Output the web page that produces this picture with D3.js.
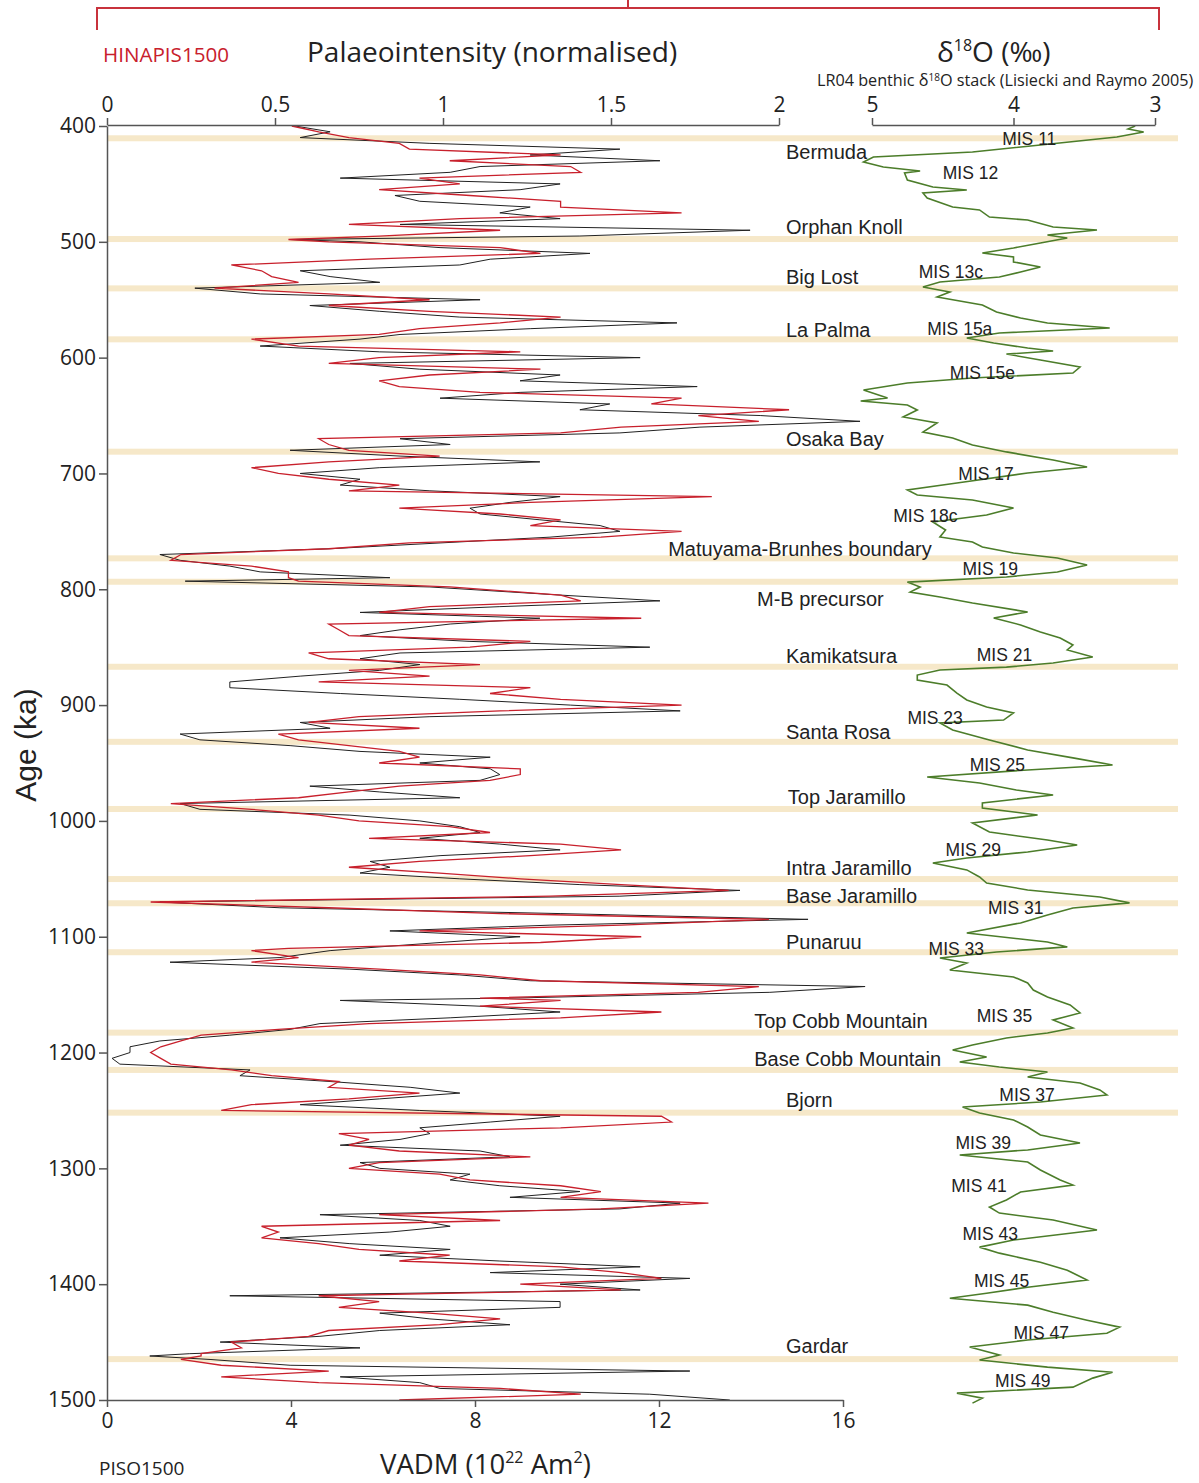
<!DOCTYPE html>
<html><head><meta charset="utf-8">
<script src="https://cdn.jsdelivr.net/npm/d3@7"></script>
<style>body{margin:0;background:#fff}svg{display:block}</style>
</head><body>
<svg id="chart" width="1199" height="1483"></svg>
<script>
// ---------------- DATA ----------------
// ages (ka) shared by the two palaeointensity records
const ages = [
400,405,410,415,420,425,430,435,440,445,
450,455,460,465,470,475,480,485,490,495,
498,500,505,510,515,520,525,530,535,540,
545,550,555,560,565,570,575,580,584,590,
595,600,605,610,615,620,625,630,635,640,
645,650,655,660,665,670,675,680,685,690,
695,700,705,710,715,720,725,730,735,740,
745,750,755,760,765,770,775,780,785,790,
793,798,805,810,815,820,825,830,835,840,
845,850,855,860,865,870,875,880,885,890,
895,900,905,910,915,920,925,930,935,940,
945,950,955,960,965,970,975,980,985,990,
995,1000,1005,1010,1015,1020,1025,1030,1035,1040,
1045,1050,1055,1060,1065,1070,1075,1080,1085,1090,
1095,1100,1105,1110,1112,1118,1122,1128,1133,1138,
1143,1148,1153,1155,1160,1165,1170,1175,1180,1185,
1190,1195,1200,1205,1210,1215,1220,1225,1230,1235,
1240,1245,1250,1255,1260,1265,1270,1275,1280,1285,
1290,1295,1300,1305,1310,1315,1320,1325,1330,1335,
1340,1345,1350,1355,1360,1365,1370,1375,1380,1385,
1390,1395,1400,1405,1410,1415,1420,1425,1430,1435,
1440,1445,1450,1455,1460,1462,1465,1470,1475,1480,
1485,1490,1495,1500];

// PISO1500 VADM (10^22 Am^2)
const pisoVADM = [
4.09,4.85,4.2,7.02,11.15,9.2,12.02,8.11,7.46,5.07,
9.85,8.98,6.26,6.8,9.2,8.54,9.85,6.37,13.98,10.28,
3.98,5.5,7.24,10.5,8.33,7.67,4.2,4.85,5.93,1.91,
3.33,8.11,4.41,5.93,7.67,12.39,9.2,6.37,5.5,3.33,
5.93,11.59,5.28,6.8,9.85,8.98,12.83,8.98,7.24,10.93,
10.28,14.2,16.37,12.89,11.15,6.37,7.46,3.98,6.37,9.41,
5.93,4.2,5.5,5.07,7.02,9.85,8.76,7.89,8.11,9.41,
10.72,11.15,9.63,7.24,4.85,1.15,1.59,2.67,3.33,6.15,
1.7,7.02,9.85,12.02,8.54,5.5,9.41,7.46,6.37,5.5,
7.89,11.8,6.37,5.5,6.8,5.93,4.2,2.67,2.67,5.07,
7.67,10.07,12.46,7.02,4.2,4.85,1.59,2.02,3.98,5.5,
8.33,6.8,8.33,8.54,8.11,4.41,5.93,7.67,1.59,2.02,
5.28,6.8,7.67,8.11,6.8,8.54,9.85,7.24,5.72,6.15,
5.5,7.67,10.28,13.76,11.15,1.15,3.76,9.85,15.24,9.63,
6.15,8.98,7.24,5.5,4.85,3.76,1.37,5.28,7.67,9.2,
16.48,14.41,8.76,5.07,8.11,9.85,7.46,4.63,3.98,2.67,
1.15,0.5,0.5,0.11,0.28,3.11,2.89,4.85,6.59,7.67,
5.93,4.2,6.8,9.85,8.33,6.8,7.02,6.37,5.07,8.11,
8.76,5.5,5.93,7.89,7.46,8.54,10.28,8.76,12.46,11.15,
4.63,6.8,7.46,6.15,3.76,5.28,7.46,5.93,8.54,11.59,
8.33,12.67,9.85,11.59,2.67,9.85,9.85,5.93,7.02,8.76,
5.93,4.63,2.46,5.5,1.8,0.93,2.24,3.98,12.67,5.07,
6.8,7.24,11.8,13.54];

// HINAPIS1500 palaeointensity (normalised)
const hinapisNorm = [
0.55,0.63,0.72,0.87,0.9,1.35,1.02,1.38,1.41,0.93,
1.05,0.81,1.08,1.35,1.35,1.71,1.05,0.72,1.17,0.81,
0.54,0.66,1.17,1.29,0.78,0.37,0.46,0.49,0.57,0.32,
0.66,0.96,0.66,0.96,1.35,1.17,0.93,0.81,0.43,0.57,
1.23,0.81,0.66,1.29,0.96,0.81,0.87,1.11,1.71,1.62,
2.03,1.76,1.94,1.53,1.35,0.63,0.66,0.72,0.99,0.66,
0.43,0.51,0.66,0.87,0.72,1.8,1.26,0.87,1.17,1.35,
1.26,1.71,1.47,0.9,0.66,0.22,0.19,0.43,0.54,0.54,
0.57,1.02,1.35,1.41,0.96,0.81,1.59,0.66,0.69,0.72,
1.26,1.08,0.6,0.66,1.11,0.72,0.96,0.63,1.26,1.14,
1.35,1.71,1.17,0.75,0.6,0.93,0.51,0.57,0.72,0.87,
0.93,0.81,1.23,1.23,1.14,0.87,0.72,0.57,0.19,0.43,
0.63,0.75,1.02,1.14,0.78,1.35,1.53,1.26,0.93,0.72,
0.99,1.23,1.53,1.85,1.32,0.13,0.66,1.17,1.97,1.53,
0.93,1.59,1.29,0.54,0.43,0.57,0.43,0.81,1.11,1.29,
1.94,1.76,1.11,1.35,1.11,1.65,1.35,0.78,0.51,0.28,
0.22,0.16,0.13,0.16,0.19,0.37,0.49,0.69,0.66,0.93,
0.72,0.43,0.34,1.65,1.68,1.35,0.69,0.78,0.72,0.87,
1.26,0.81,0.72,0.99,1.08,1.35,1.47,1.35,1.79,1.47,
0.81,1.17,0.46,0.51,0.46,0.63,0.75,1.02,0.87,1.35,
1.53,1.65,1.23,1.53,0.63,0.81,0.69,0.96,1.17,0.99,
0.66,0.6,0.37,0.4,0.28,0.28,0.22,0.34,0.66,0.34,
0.63,1.17,1.41,0.87];

// LR04 benthic d18O stack
const lr04Age = [
400.0,402.6,405.2,409.5,416.4,422.4,426.8,431.1,435.4,438.9,
440.6,446.6,452.7,455.3,457.8,462.2,469.9,472.5,478.6,481.2,
487.2,489.8,494.1,496.7,501.0,505.3,509.6,513.1,517.4,521.7,
526.1,530.4,534.7,539.0,543.3,547.6,554.6,560.6,565.8,570.1,
574.4,578.7,583.0,587.4,591.7,594.3,596.9,602.0,608.1,613.3,
617.6,621.9,627.9,634.8,637.4,640.9,645.2,651.2,656.4,664.2,
669.4,675.4,681.4,688.4,694.4,699.6,708.2,714.3,718.6,722.9,
729.8,735.9,741.9,748.8,754.9,759.2,763.5,768.7,773.0,779.1,
785.1,789.4,793.8,798.1,802.4,806.7,811.9,819.6,824.8,830.8,
836.9,842.1,848.1,852.4,858.5,863.7,867.2,869.7,874.1,878.4,
882.7,889.6,895.6,901.6,906.8,912.9,915.4,921.5,930.1,938.7,
945.6,951.7,956.0,962.1,967.2,973.3,977.6,984.5,988.8,994.9,
1001.8,1009.6,1016.5,1020.8,1026.8,1032.0,1036.3,1042.3,1048.4,1053.6,
1059.6,1065.7,1070.8,1075.2,1081.2,1088.1,1096.8,1104.5,1108.8,1113.2,
1118.3,1122.7,1128.7,1134.7,1139.9,1146.0,1152.0,1158.9,1165.8,1171.9,
1178.8,1183.1,1187.4,1193.5,1197.8,1203.8,1208.1,1212.5,1216.8,1221.1,
1226.3,1232.3,1236.6,1242.7,1247.0,1252.2,1258.2,1264.3,1271.2,1278.1,
1284.1,1288.4,1294.5,1301.4,1310.0,1314.4,1320.4,1327.3,1333.4,1338.6,
1344.6,1353.2,1361.9,1368.0,1373.2,1381.0,1387.9,1396.5,1402.6,1407.8,
1412.1,1418.1,1424.2,1431.1,1437.1,1442.3,1448.2,1454.3,1461.2,1465.5,
1471.6,1476.0,1481.1,1488.9,1494.1,1498.4,1502.7];
const lr04D18O = [
3.14,3.19,3.08,3.27,3.81,4.29,4.99,5.06,4.92,4.66,
4.77,4.75,4.57,4.33,4.64,4.61,4.43,4.24,4.17,3.90,
3.72,3.41,3.76,3.62,3.81,4.00,4.22,4.00,4.00,3.81,
3.95,4.10,4.52,4.64,4.45,4.54,4.22,4.12,3.95,3.76,
3.32,4.10,4.33,4.14,3.90,3.72,4.05,3.81,3.53,3.58,
4.29,4.75,5.06,4.89,5.08,4.75,4.68,4.78,4.54,4.64,
4.43,4.29,4.05,3.72,3.48,3.90,4.40,4.75,4.68,4.29,
4.00,4.19,4.57,4.48,4.52,4.29,4.22,4.00,3.69,3.48,
3.69,4.05,4.75,4.66,4.73,4.52,4.29,3.90,4.14,3.95,
3.81,3.67,3.58,3.62,3.44,3.72,4.05,4.52,4.68,4.68,
4.47,4.40,4.33,4.19,4.00,4.07,4.52,4.43,4.17,3.90,
3.58,3.30,3.90,4.61,4.24,3.98,3.72,4.22,4.22,3.83,
4.29,4.17,3.76,3.55,3.90,4.33,4.57,4.33,4.24,4.19,
3.90,3.39,3.18,3.58,3.76,3.95,4.33,3.76,3.62,4.12,
4.52,4.33,4.45,4.00,3.90,3.86,3.76,3.60,3.53,3.72,
3.58,3.76,4.05,4.29,4.43,4.19,4.38,4.10,3.76,3.90,
3.53,3.39,3.34,3.81,4.36,4.24,4.00,3.90,3.81,3.53,
3.90,4.38,3.90,3.81,3.67,3.58,3.95,4.05,4.17,4.10,
3.72,3.41,4.00,4.24,4.10,3.81,3.62,3.48,3.90,4.19,
4.45,3.90,3.72,3.48,3.25,3.34,3.90,4.31,4.10,4.24,
3.76,3.30,3.44,3.58,4.40,4.22,4.29];

// excursion / reversal events (band age, ka) and their labels
const eventNames = ["Bermuda","Orphan Knoll","Big Lost","La Palma","Osaka Bay",
  "Matuyama-Brunhes boundary","M-B precursor","Kamikatsura","Santa Rosa","Top Jaramillo",
  "Intra Jaramillo","Base Jaramillo","Punaruu","Top Cobb Mountain","Base Cobb Mountain","Bjorn","Gardar"];
const eventAges = [410.6,497.6,540.2,584.2,681.2,773.3,793.5,866.9,931.7,989.7,
  1050.2,1071.1,1113.4,1182.8,1215,1251.9,1464.7];
const eventLabelAges = [422.4,487.2,530.4,576.1,670.2,765.2,808.4,857.6,923.3,979.4,
  1040.7,1064.8,1104.5,1172.7,1205.5,1240.9,1453.3];
const eventLabelVADM = [14.76,14.76,14.76,14.76,14.76,12.2,14.13,14.76,14.76,14.8,
  14.76,14.76,14.76,14.07,14.07,14.76,14.76];

// marine isotope stage labels
const misNames = ["MIS 11","MIS 12","MIS 13c","MIS 15a","MIS 15e","MIS 17","MIS 18c","MIS 19",
  "MIS 21","MIS 23","MIS 25","MIS 29","MIS 31","MIS 33","MIS 35","MIS 37","MIS 39","MIS 41",
  "MIS 43","MIS 45","MIS 47","MIS 49"];
const misAges = [411.2,440.6,526.1,575.3,613.3,700.5,736.7,782.5,856.7,911.1,951.7,1025.1,
  1075.2,1110.6,1168.4,1236.6,1278.1,1315.2,1356.6,1397.2,1442.1,1483.5];
const misD18O = [4.08,4.50,4.67,4.61,4.45,4.39,4.85,4.36,4.26,4.75,4.31,4.48,4.18,4.60,
  4.26,4.10,4.41,4.44,4.36,4.28,4.00,4.13];

// tick values
const ageTicks = [400,500,600,700,800,900,1000,1100,1200,1300,1400,1500];
const normTicks = [0,0.5,1,1.5,2];
const d18OTicks = [5,4,3];
const vadmTicks = [0,4,8,12,16];

// ---------------- DRAW ----------------
const svg = d3.select("#chart");
const y = d3.scaleLinear().domain([400,1500]).range([126,1400]);
const xV = d3.scaleLinear().domain([0,16]).range([107,843]);
const xN = d3.scaleLinear().domain([0,2]).range([107,779]);
const xD = d3.scaleLinear().domain([5,3]).range([872,1155]);

const numFont = "'Open Sans', sans-serif";
const lblFont = "'Liberation Sans', Arial, sans-serif";

// bands
svg.append("g").selectAll("rect").data(eventAges).join("rect")
  .attr("x", xV(0)).attr("width", 1178 - xV(0))
  .attr("y", d => y(d) - 3).attr("height", 6)
  .attr("fill", "#f6e8c9");

// lines
const pairsB = ages.map((a,i) => [a, pisoVADM[i]]).filter(d => d[1] != null);
const pairsR = ages.map((a,i) => [a, hinapisNorm[i]]).filter(d => d[1] != null);
const pairsG = lr04Age.map((a,i) => [a, lr04D18O[i]]);

svg.append("path").datum(pairsB)
  .attr("fill","none").attr("stroke","#222").attr("stroke-width",1)
  .attr("d", d3.line().x(d => xV(d[1])).y(d => y(d[0])));
svg.append("path").datum(pairsR)
  .attr("fill","none").attr("stroke","#c8202c").attr("stroke-width",1.3)
  .attr("d", d3.line().x(d => xN(d[1])).y(d => y(d[0])));
svg.append("path").datum(pairsG)
  .attr("fill","none").attr("stroke","#4c7d2a").attr("stroke-width",1.6)
  .attr("d", d3.line().x(d => xD(d[1])).y(d => y(d[0])));

// axes
function styleAxis(g, fs) {
  g.selectAll("path.domain").attr("stroke","#555").attr("stroke-width",1.5);
  g.selectAll(".tick line").attr("stroke","#555").attr("stroke-width",1.5);
  g.selectAll(".tick text").attr("fill","#222").style("font-family", numFont).style("font-size", fs + "px");
}
const fmt = d => String(d);
svg.append("g").attr("transform","translate(107,0)")
  .call(d3.axisLeft(y).tickValues(ageTicks).tickSize(8).tickSizeOuter(0).tickPadding(3).tickFormat(fmt))
  .call(g => styleAxis(g, 21));
svg.append("g").attr("transform","translate(0,125)")
  .call(d3.axisTop(xN).tickValues(normTicks).tickSize(7).tickSizeOuter(0).tickPadding(6).tickFormat(fmt))
  .call(g => styleAxis(g, 21));
svg.append("g").attr("transform","translate(0,125)")
  .call(d3.axisTop(xD).tickValues(d18OTicks).tickSize(7).tickSizeOuter(0).tickPadding(6).tickFormat(fmt))
  .call(g => styleAxis(g, 21));
svg.append("g").attr("transform","translate(0,1400)")
  .call(d3.axisBottom(xV).tickValues(vadmTicks).tickSize(7).tickSizeOuter(0).tickPadding(6).tickFormat(fmt))
  .call(g => styleAxis(g, 21));

// event labels
svg.append("g").selectAll("text").data(eventNames).join("text")
  .attr("x", (d,i) => xV(eventLabelVADM[i]))
  .attr("y", (d,i) => y(eventLabelAges[i]))
  .attr("dominant-baseline","central")
  .style("font-family", lblFont).style("font-size","20px").attr("fill","#222")
  .text(d => d);

// MIS labels
svg.append("g").selectAll("text").data(misNames).join("text")
  .attr("x", (d,i) => xD(misD18O[i]))
  .attr("y", (d,i) => y(misAges[i]))
  .attr("dominant-baseline","central")
  .style("font-family", lblFont).style("font-size","17.5px").attr("fill","#222")
  .text(d => d);

// red bracket
svg.append("path").attr("d","M97,30V8H1159V30M628,8V0")
  .attr("fill","none").attr("stroke","#c8323c").attr("stroke-width",2);

// titles
svg.append("text").attr("x",103).attr("y",62).attr("fill","#c8202c")
  .style("font-family",numFont).style("font-size","20.6px").text("HINAPIS1500");
svg.append("text").attr("x",307).attr("y",62).attr("fill","#222")
  .style("font-family",numFont).style("font-size","28px").text("Palaeointensity (normalised)");

const t1 = svg.append("text").attr("x",937).attr("y",62).attr("fill","#222")
  .style("font-family",numFont).style("font-size","28px");
t1.append("tspan").text("δ");
t1.append("tspan").attr("dy",-11).style("font-size","16px").text("18");
t1.append("tspan").attr("dy",11).text("O (‰)");

const t2 = svg.append("text").attr("x",817).attr("y",86).attr("fill","#222")
  .style("font-family",numFont).style("font-size","16.2px");
t2.append("tspan").text("LR04 benthic δ");
t2.append("tspan").attr("dy",-5).style("font-size","10px").text("18");
t2.append("tspan").attr("dy",5).text("O stack (Lisiecki and Raymo 2005)");

svg.append("text").attr("x",99).attr("y",1475).attr("fill","#222")
  .style("font-family",numFont).style("font-size","19px").text("PISO1500");

const t3 = svg.append("text").attr("x",380).attr("y",1474).attr("fill","#222")
  .style("font-family",numFont).style("font-size","27.5px");
t3.append("tspan").text("VADM (10");
t3.append("tspan").attr("dy",-11).style("font-size","16px").text("22");
t3.append("tspan").attr("dy",11).text(" Am");
t3.append("tspan").attr("dy",-11).style("font-size","16px").text("2");
t3.append("tspan").attr("dy",11).text(")");

svg.append("text").attr("transform","translate(36,745) rotate(-90)")
  .attr("text-anchor","middle").attr("fill","#222")
  .style("font-family",lblFont).style("font-size","30px").text("Age (ka)");
</script>
</body></html>
